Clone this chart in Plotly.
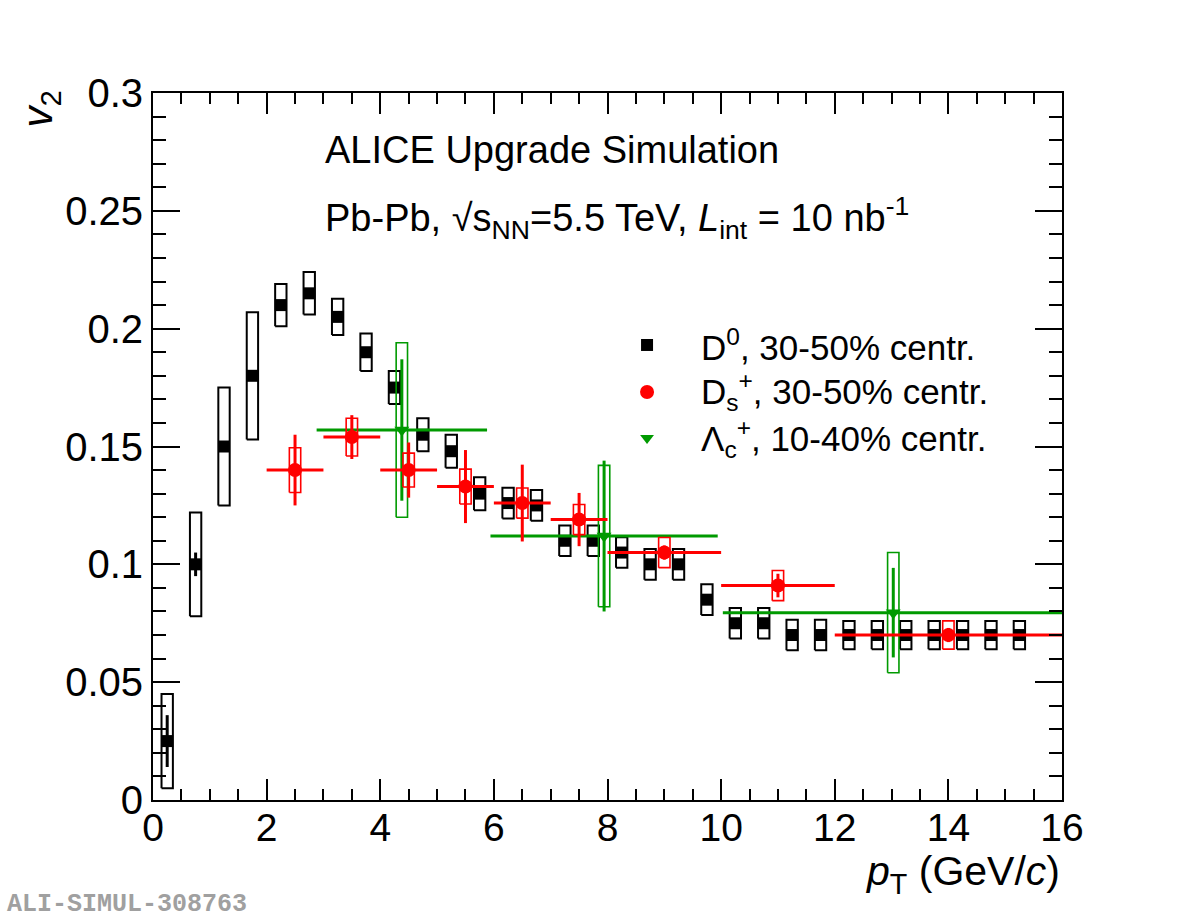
import plotly.graph_objects as go

# ---------------- data ----------------
d0_pt = [0.25, 0.75, 1.25, 1.75, 2.25, 2.75, 3.25, 3.75, 4.25, 4.75, 5.25, 5.75,
         6.25, 6.75, 7.25, 7.75, 8.25, 8.75, 9.25, 9.75, 10.25, 10.75, 11.25, 11.75,
         12.25, 12.75, 13.25, 13.75, 14.25, 14.75, 15.25]
d0_v2 = [0.025, 0.100, 0.150, 0.180, 0.210, 0.215, 0.205, 0.190, 0.175, 0.155, 0.148, 0.130,
         0.126, 0.125, 0.110, 0.110, 0.105, 0.100, 0.100, 0.085, 0.075, 0.075, 0.070, 0.070,
         0.070, 0.070, 0.070, 0.070, 0.070, 0.070, 0.070]
d0_stat = [0.011, 0.005, 0.002, 0.002, 0.002, 0.002, 0.002, 0.002, 0.002, 0.002, 0.002, 0.002,
           0.002, 0.002, 0.002, 0.002, 0.002, 0.002, 0.002, 0.002, 0.002, 0.002, 0.002, 0.002,
           0.002, 0.002, 0.002, 0.002, 0.002, 0.002, 0.002]
d0_syst = [0.020, 0.022, 0.025, 0.027, 0.009, 0.009, 0.0077, 0.008, 0.007, 0.007, 0.007, 0.007,
           0.0065, 0.0065, 0.0065, 0.0065, 0.0065, 0.0065, 0.0065, 0.0065, 0.0065, 0.0065, 0.0065, 0.0065,
           0.0060, 0.0060, 0.0060, 0.0060, 0.0060, 0.0060, 0.0060]

ds_pt = [2.5, 3.5, 4.5, 5.5, 6.5, 7.5, 9.0, 11.0, 14.0]
ds_pt_err = [0.5, 0.5, 0.5, 0.5, 0.5, 0.5, 1.0, 1.0, 2.0]
ds_v2 = [0.140, 0.154, 0.140, 0.133, 0.126, 0.119, 0.105, 0.091, 0.070]
ds_stat = [0.015, 0.0093, 0.0117, 0.0155, 0.0163, 0.0113, 0.003, 0.005, 0.003]
ds_syst = [0.0095, 0.008, 0.0072, 0.0074, 0.0064, 0.0064, 0.0064, 0.0064, 0.006]

lc_pt = [4.38, 7.94, 13.03]
lc_pt_err = [1.5, 2.0, 3.0]
lc_v2 = [0.157, 0.112, 0.0795]
lc_stat = [0.030, 0.032, 0.019]
lc_syst = [0.037, 0.030, 0.0255]

box_half_width = 0.1

x_ticks = [0, 2, 4, 6, 8, 10, 12, 14, 16]
y_ticks = [0, 0.05, 0.1, 0.15, 0.2, 0.25, 0.3]
y_tick_text = ["0", "0.05", "0.1", "0.15", "0.2", "0.25", "0.3"]

BLACK = "#000000"
RED = "#ff0000"
GREEN = "#009a00"
FONT = "Liberation Sans"


def box_outline(xs, ys, es, hw):
    bx, by = [], []
    for x, y, e in zip(xs, ys, es):
        bx += [x - hw, x + hw, x + hw, x - hw, x - hw, None]
        by += [y - e, y - e, y + e, y + e, y - e, None]
    return bx, by


fig = go.Figure()


def add_series(xs, ys, stat, syst, xerr, color, symbol, size, boxw):
    bx, by = box_outline(xs, ys, syst, box_half_width)
    fig.add_trace(go.Scatter(x=bx, y=by, mode="lines",
                             line=dict(color=color, width=boxw),
                             hoverinfo="skip", showlegend=False))
    kw = {}
    if xerr is not None:
        kw["error_x"] = dict(type="data", array=xerr, visible=True, color=color,
                             thickness=3, width=0)
    fig.add_trace(go.Scatter(
        x=xs, y=ys, mode="markers",
        marker=dict(color=color, symbol=symbol, size=size, opacity=1, line=dict(width=0)),
        error_y=dict(type="data", array=stat, visible=True, color=color, thickness=3, width=0),
        showlegend=False, **kw))


add_series(d0_pt, d0_v2, d0_stat, d0_syst, None, BLACK, "square", 12, 2)
add_series(lc_pt, lc_v2, lc_stat, lc_syst, lc_pt_err, GREEN, "triangle-down", 13, 1.6)
add_series(ds_pt, ds_v2, ds_stat, ds_syst, ds_pt_err, RED, "circle", 14, 1.6)

# legend keys on an overlay axis (0..1 over the plot area)
leg_labels = ["D<sup>0</sup>, 30-50% centr.",
              "D<sub>s</sub><sup>+</sup>, 30-50% centr.",
              "Λ<sub>c</sub><sup>+</sup>, 10-40% centr."]
leg_colors = [BLACK, RED, GREEN]
leg_symbols = ["square", "circle", "triangle-down"]
leg_sizes = [12, 14, 12]
leg_x = 0.5435
leg_text_x = 0.601
leg_y = [0.6436, 0.5771, 0.512]

for c, s, sz, yy in zip(leg_colors, leg_symbols, leg_sizes, leg_y):
    fig.add_trace(go.Scatter(x=[leg_x], y=[yy], mode="markers", xaxis="x2", yaxis="y2",
                             opacity=1,
                             marker=dict(color=c, symbol=s, size=sz, opacity=1,
                                         line=dict(width=0)),
                             hoverinfo="skip", showlegend=False))

annotations = []
for lab, yy in zip(leg_labels, leg_y):
    annotations.append(dict(x=leg_text_x, y=yy, xref="paper", yref="paper", text=lab,
                            showarrow=False, xanchor="left", yanchor="middle",
                            font=dict(family=FONT, size=35, color="black")))

annotations += [
    dict(x=3.0, y=0.2758, xref="x", yref="y", text="ALICE Upgrade Simulation",
         showarrow=False, xanchor="left", yanchor="middle",
         font=dict(family=FONT, size=38, color="black")),
    dict(x=3.0, y=0.247, xref="x", yref="y",
         text="Pb-Pb, √s<sub>NN</sub>=5.5 TeV, <i>L</i><sub>int</sub> = 10 nb<sup>-1</sup>",
         showarrow=False, xanchor="left", yanchor="middle",
         font=dict(family=FONT, size=38, color="black")),
    dict(x=1.0, y=-0.104, xref="paper", yref="paper",
         text="<i>p</i><sub>T</sub> (GeV/<i>c</i>)", showarrow=False,
         xanchor="right", yanchor="middle",
         font=dict(family=FONT, size=41, color="black")),
    dict(x=-0.124, y=1.006, xref="paper", yref="paper", text="<i>v</i><sub>2</sub>",
         showarrow=False, textangle=-90, xanchor="center", yanchor="top",
         font=dict(family=FONT, size=42, color="black")),
    dict(x=-0.163, y=-0.148, xref="paper", yref="paper", text="<b>ALI-SIMUL-308763</b>",
         showarrow=False, xanchor="left", yanchor="middle",
         font=dict(family="Liberation Mono", size=25, color="#a0a0a0")),
]

fig.update_layout(
    width=1182, height=921,
    margin=dict(l=153, r=120, t=93, b=121),
    paper_bgcolor="white", plot_bgcolor="white",
    showlegend=False,
    annotations=annotations,
    xaxis=dict(range=[0, 16], tickvals=x_ticks, ticktext=[str(v) for v in x_ticks],
               ticks="inside", ticklen=21, tickwidth=2, tickcolor="black",
               showline=True, linewidth=2, linecolor="black", mirror="allticks",
               showgrid=False, zeroline=False, ticklabelstandoff=-8,
               tickfont=dict(family=FONT, size=39, color="black"),
               minor=dict(dtick=0.5, tick0=0, ticks="inside", ticklen=11, tickwidth=2,
                          tickcolor="black", showgrid=False)),
    yaxis=dict(range=[0, 0.3], tickvals=y_ticks, ticktext=y_tick_text,
               ticks="inside", ticklen=27, tickwidth=2, tickcolor="black",
               showline=True, linewidth=2, linecolor="black", mirror="allticks",
               showgrid=False, zeroline=False,
               tickfont=dict(family=FONT, size=40, color="black"),
               minor=dict(dtick=0.01, tick0=0, ticks="inside", ticklen=13, tickwidth=2,
                          tickcolor="black", showgrid=False)),
    xaxis2=dict(range=[0, 1], overlaying="x", visible=False, fixedrange=True),
    yaxis2=dict(range=[0, 1], overlaying="y", visible=False, fixedrange=True),
)

fig.write_html("out.html")
